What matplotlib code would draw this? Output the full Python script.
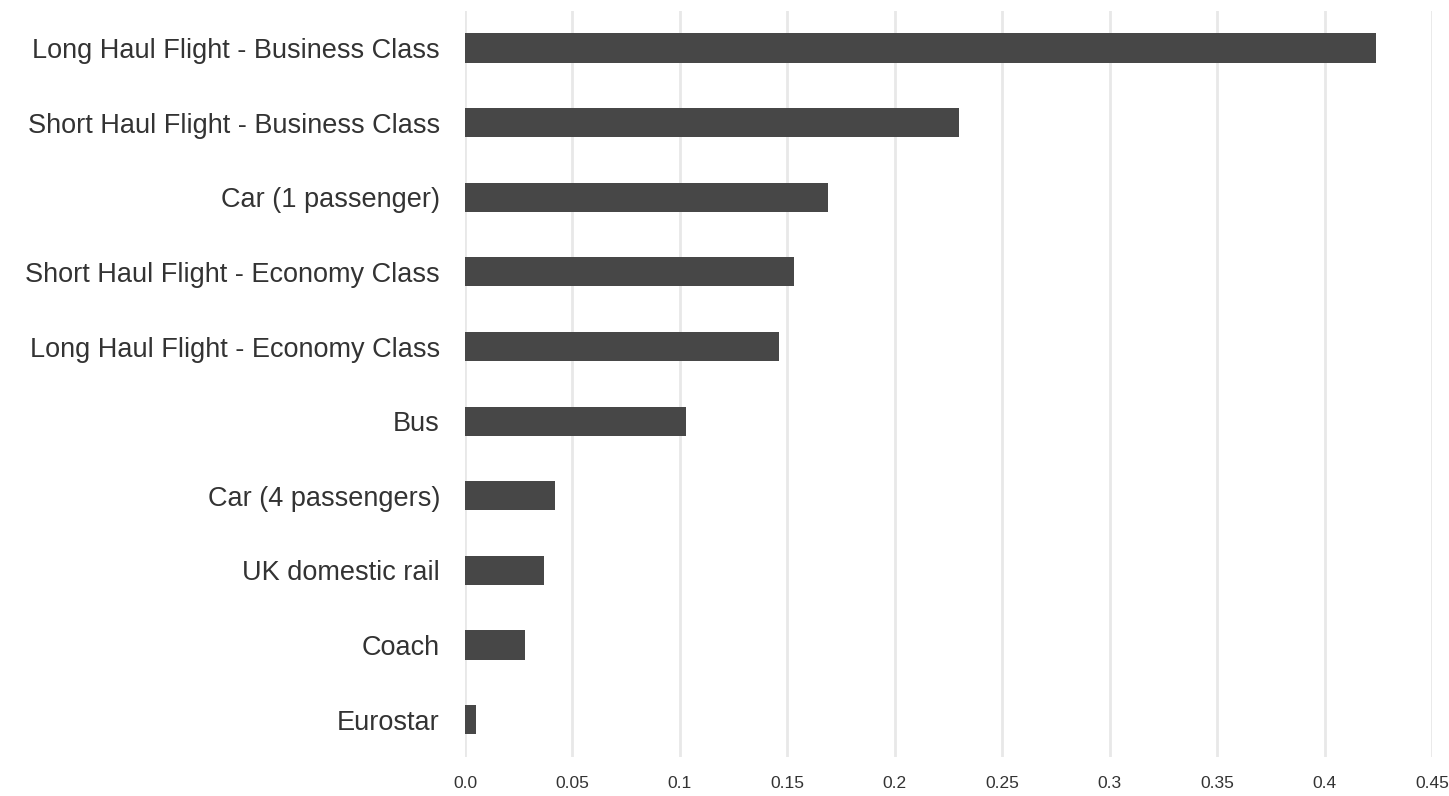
import matplotlib.pyplot as plt

plt.rcParams['font.family'] = ['Liberation Sans', 'DejaVu Sans']

modes = ['Long Haul Flight - Business Class', 'Short Haul Flight - Business Class',
         'Car (1 passenger)', 'Short Haul Flight - Economy Class',
         'Long Haul Flight - Economy Class', 'Bus', 'Car (4 passengers)',
         'UK domestic rail', 'Coach', 'Eurostar']
emissions = [0.424, 0.230, 0.169, 0.153, 0.146, 0.103, 0.042, 0.037, 0.028, 0.005]
xticks = [0, 0.05, 0.1, 0.15, 0.2, 0.25, 0.3, 0.35, 0.4, 0.45]
xtick_labels = ['0.0', '0.05', '0.1', '0.15', '0.2', '0.25', '0.3', '0.35', '0.4', '0.45']

fig = plt.figure(figsize=(14.49, 7.96), dpi=100)
ax = fig.add_axes([0.3209, 0.049, 0.6674, 0.9376])

ypos = list(range(len(modes)))
ax.barh(ypos, emissions, height=0.39, color='#474747', zorder=3)

ax.set_ylim(len(modes) - 0.5, -0.5)
ax.set_xlim(0, 0.45)
ax.set_yticks(ypos)
ax.set_yticklabels(modes, fontsize=19.5, color='#333333')
ax.set_xticks(xticks)
ax.set_xticklabels(xtick_labels, fontsize=12.5, color='#333333')

ax.grid(axis='x', color='#e8e8e8', linewidth=2, zorder=0)
ax.tick_params(axis='y', length=0, pad=18)
ax.tick_params(axis='x', length=0, pad=14)
for s in ax.spines.values():
    s.set_visible(False)

plt.savefig('out.png', dpi=100)
